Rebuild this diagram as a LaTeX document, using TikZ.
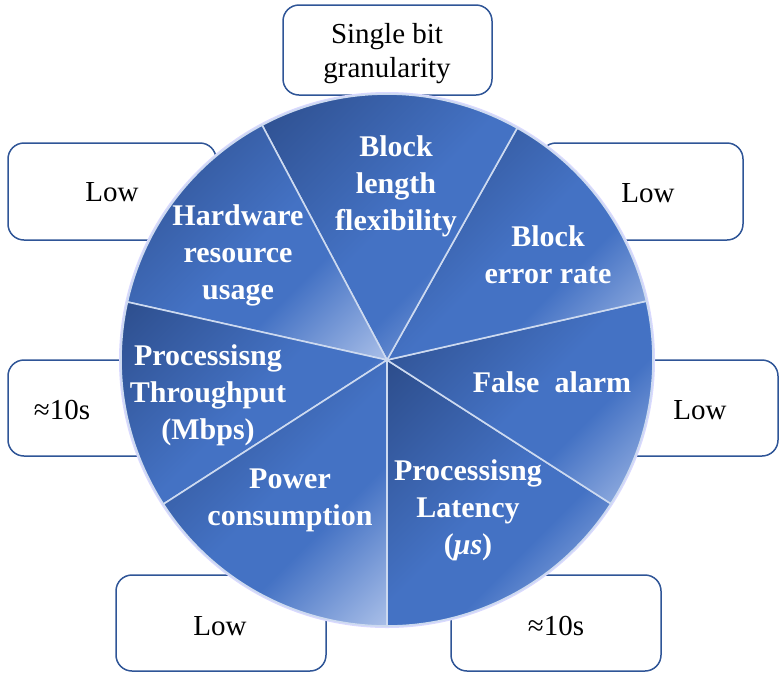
\documentclass[tikz,border=0pt]{standalone}
\usepackage{fontspec}
\setmainfont{Liberation Serif}
\definecolor{pdark}{RGB}{44,76,138}
\definecolor{pmid}{RGB}{68,114,196}
\definecolor{plight}{RGB}{172,193,233}
\definecolor{sline}{RGB}{205,218,240}
\definecolor{bline}{RGB}{47,85,151}
\pgfdeclareverticalshading{pieshade}{100bp}{color(0bp)=(plight); color(14bp)=(plight); color(38bp)=(pmid); color(50bp)=(pmid); color(86bp)=(pdark); color(100bp)=(pdark)}
\begin{document}
\begin{tikzpicture}[x=1pt,y=1pt,
  box/.style={draw=bline, line width=1.5pt, fill=white, rounded corners=16pt, inner sep=0pt},
  boxtxt/.style={font=\fontsize{29}{34}\selectfont, align=center, text=black},
  sect/.style={shading=pieshade, shading angle=45, draw=sline, line width=1.6pt, line join=round},
  lab/.style={text=white, font=\bfseries\fontsize{30}{37}\selectfont, align=center}]
\useasboundingbox (0,0) rectangle (779,-673);
% boxes
\node[box, minimum width=209pt, minimum height=90pt] (bt) at (387.5,-50) {};
\node[box, minimum width=208pt, minimum height=97pt] (blt) at (112,-191.5) {};
\node[box, minimum width=203pt, minimum height=97pt] (brt) at (641.5,-191.5) {};
\node[box, minimum width=208pt, minimum height=96pt] (blm) at (112,-408) {};
\node[box, minimum width=208pt, minimum height=96pt] (brm) at (674,-408) {};
\node[box, minimum width=210pt, minimum height=96pt] (bbl) at (221,-623) {};
\node[box, minimum width=210pt, minimum height=96pt] (bbr) at (556,-623) {};
\node[boxtxt] (tt) at (387,-54) {Single bit\\granularity};
\node[boxtxt] (tlt) at (112,-192) {Low};
\node[boxtxt] (trt) at (648,-193) {Low};
\node[boxtxt] (tlm) at (62,-410) {≈10s};
\node[boxtxt] (trm) at (700,-410) {Low};
\node[boxtxt] (tbl) at (220,-626) {Low};
\node[boxtxt] (tbr) at (556,-626) {≈10s};
% pie
\coordinate (c) at (387,-360);
\fill[white!85!blue] (c) circle[radius=268];
\foreach \a/\b in {-90/-32.7, -32.7/12.8, 12.8/60.7, 60.7/118, 118/167.4, 167.4/212.8, 212.8/270}
  \shade[sect] (c) -- ++(\a:266) arc[start angle=\a, end angle=\b, radius=266] -- cycle;
% labels
\node[lab] (l1) at (396,-186) {Block\\length\\flexibility};
\node[lab] (l2) at (238,-255) {Hardware\\resource\\usage};
\node[lab] (l3) at (548,-255) {Block\\error rate};
\node[lab] (l4) at (552,-382) {False\ \ alarm};
\node[lab] (l5) at (468,-510) {Processisng\\Latency\\(\textit{μs})};
\node[lab] (l6) at (290,-500) {Power\\consumption};
\node[lab] (l7) at (208,-395) {Processisng\\Throughput\\(Mbps)};
\end{tikzpicture}
\end{document}
